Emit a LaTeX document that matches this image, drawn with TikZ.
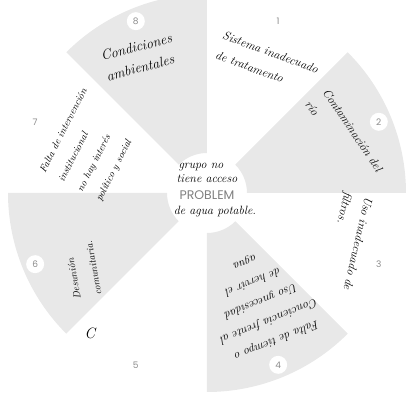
\documentclass[tikz,border=0pt]{standalone}
\usepackage{fontspec}
\newfontfamily\numfont{Poppins}
\usetikzlibrary{positioning}

\tikzset{
  sector/.style={fill=black!9},
  num/.style={font=\numfont\small, text=black!45, fill=white, circle, inner sep=1pt, minimum size=18pt},
  hand/.style={font=\fontsize{#1}{21}\selectfont\itshape, align=left, inner sep=0pt},
  hand/.default=10,
}

\begin{document}
\begin{tikzpicture}[x=1pt, y=1pt]
    \useasboundingbox (-207,-208) rectangle (201,193);

    % Shaded sectors of the wheel
    \foreach \a/\b in {0/45, 90/135, 180/225, 270/315} {
        \fill[sector] (\a:40) arc (\a:\b:40) -- (\b:199) arc (\b:\a:199) -- cycle;
    }

    % Sector numbers
    \foreach \i in {1,...,8} {
        \node[num] (n\i) at ({112.5-45*\i}:186) {\i};
    }

    % Centre
    \node[font=\numfont\fontsize{12.5}{13}\selectfont, text=black!50] (problem) at (0,-2) {PROBLEM};
    \node[hand=12, above=4pt of problem] (acceso) {tiene acceso};
    \node[hand=12, above=4pt of acceso, xshift=-6pt] (grupo) {grupo no};
    \node[hand=12, below=3pt of problem, xshift=8pt] (agua) {de agua potable.};

    % Causes
    \node[hand=12, rotate=-20] (txt1) at (60,131) {Sistema inadecuado\\de tratamento};
    \node[hand=12, rotate=-56] (txt2) at (137,57) {Contaminación del\\río};
    \node[hand=12, rotate=-103] (txt3) at (140,-48) {Uso inadecuado de\\filtros.};
    \node[hand=12, rotate=202, align=center] (txt4) at (54,-108)
        {Falta de tiempo o\\Conciencia frente al\\Uso ynecesidad\\de hervir el\\agua};
    \node[hand=15] (txt5) at (-117,-140) {C};
    \node[hand, rotate=100] (txt6) at (-124,-77) {Desunión\\comunitaria.};
    \node[hand, rotate=63] (txt7) at (-115,48)
        {Falta de intervención\\institucional\\no hay interés\\político y social};
    \node[hand=14, rotate=15] (txt8) at (-68,136) {Condiciones\\ambientales};
\end{tikzpicture}
\end{document}
